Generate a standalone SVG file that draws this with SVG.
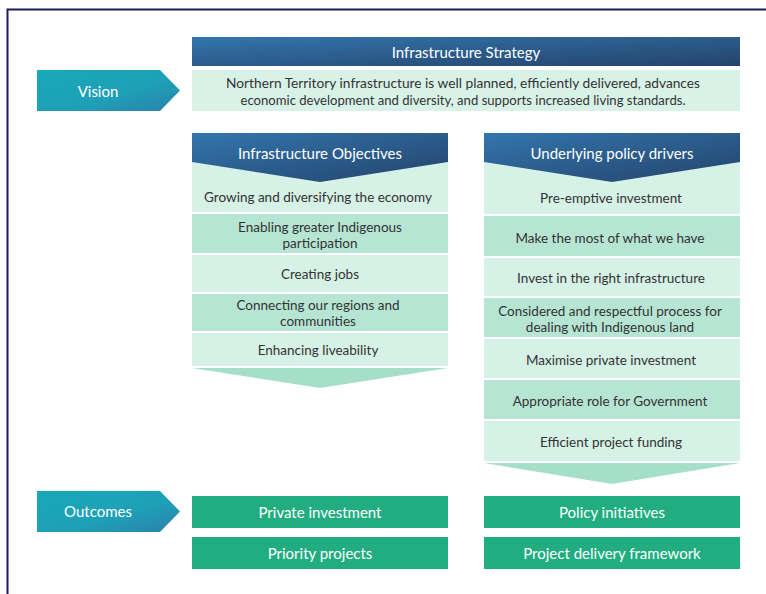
<svg xmlns="http://www.w3.org/2000/svg" width="766" height="594" viewBox="0 0 766 594">
<defs>
<linearGradient id="blue" x1="0" y1="0" x2="1" y2="1">
<stop offset="0" stop-color="#3376ad"/>
<stop offset="1" stop-color="#24436b"/>
</linearGradient>
<linearGradient id="teal" x1="0" y1="0" x2="1" y2="1">
<stop offset="0" stop-color="#17aab9"/>
<stop offset="0.6" stop-color="#1f9fb6"/>
<stop offset="1" stop-color="#2c7fac"/>
</linearGradient>
<style>
.t{font-family:Lato,"Open Sans","Liberation Sans",sans-serif;font-size:13.5px;fill:#333;text-anchor:middle;dominant-baseline:central}
.w{font-family:Lato,"Open Sans","Liberation Sans",sans-serif;font-size:15px;fill:#fff;text-anchor:middle;dominant-baseline:central}
.lt{fill:#d6f1e6}
.dk{fill:#b6e5d3}
.cv{fill:#a6dfc9}
.og{fill:#21ad7f}
</style>
</defs>
<rect width="766" height="594" fill="#fff"/>
<path d="M7.5 594V9.5H766" fill="none" stroke="#1d1b5e" stroke-width="2"/>

<g id="vision-label">
<polygon points="37,70 160,70 180,90.5 160,111 37,111" fill="url(#teal)"/>
<text class="w" x="98" y="91">Vision</text>
</g>
<g id="strategy-header">
<rect x="192" y="37" width="548" height="29" fill="url(#blue)"/>
<text class="w" x="466" y="52">Infrastructure Strategy</text>
</g>
<g id="vision-text">
<rect x="192" y="70" width="548" height="41" fill="#d8f2e8"/>
<text class="t" x="463" y="83" textLength="474" lengthAdjust="spacingAndGlyphs">Northern Territory infrastructure is well planned, efficiently delivered, advances</text>
<text class="t" x="463" y="100" textLength="445" lengthAdjust="spacingAndGlyphs">economic development and diversity, and supports increased living standards.</text>
</g>

<g id="objectives">
<rect class="lt" x="192" y="160" width="256" height="52"/>
<rect class="dk" x="192" y="214" width="256" height="39"/>
<rect class="lt" x="192" y="255" width="256" height="37"/>
<rect class="dk" x="192" y="294" width="256" height="37"/>
<rect class="lt" x="192" y="333" width="256" height="33"/>
<polygon class="cv" points="192,368 448,368 320,388"/>
<polygon points="192,133 448,133 448,162 320,182 192,162" fill="url(#blue)"/>
<text class="w" x="320" y="153">Infrastructure Objectives</text>
<text class="t" x="318" y="197">Growing and diversifying the economy</text>
<text class="t" x="320" y="227">Enabling greater Indigenous</text>
<text class="t" x="320" y="243">participation</text>
<text class="t" x="320" y="274">Creating jobs</text>
<text class="t" x="318" y="305">Connecting our regions and</text>
<text class="t" x="318" y="321">communities</text>
<text class="t" x="318" y="350">Enhancing liveability</text>
</g>

<g id="policy-drivers">
<rect class="lt" x="484" y="160" width="256" height="54"/>
<rect class="dk" x="484" y="216" width="256" height="40"/>
<rect class="lt" x="484" y="258" width="256" height="38"/>
<rect class="dk" x="484" y="298" width="256" height="39"/>
<rect class="lt" x="484" y="339" width="256" height="39"/>
<rect class="dk" x="484" y="380" width="256" height="39"/>
<rect class="lt" x="484" y="421" width="256" height="40"/>
<polygon class="cv" points="484,463 740,463 612,484"/>
<polygon points="484,133 740,133 740,162 612,182 484,162" fill="url(#blue)"/>
<text class="w" x="612" y="153">Underlying policy drivers</text>
<text class="t" x="611" y="198">Pre-emptive investment</text>
<text class="t" x="610" y="238">Make the most of what we have</text>
<text class="t" x="611" y="278">Invest in the right infrastructure</text>
<text class="t" x="610" y="311">Considered and respectful process for</text>
<text class="t" x="610" y="327">dealing with Indigenous land</text>
<text class="t" x="611" y="360">Maximise private investment</text>
<text class="t" x="610" y="401">Appropriate role for Government</text>
<text class="t" x="611" y="442">Efficient project funding</text>
</g>

<g id="outcomes-label">
<polygon points="37,491 160,491 180,511.5 160,532 37,532" fill="url(#teal)"/>
<text class="w" x="98" y="511">Outcomes</text>
</g>
<g id="private-investment">
<rect class="og" x="192" y="496" width="256" height="32"/>
<text class="w" x="320" y="512">Private investment</text>
</g>
<g id="priority-projects">
<rect class="og" x="192" y="537" width="256" height="32"/>
<text class="w" x="320" y="553">Priority projects</text>
</g>
<g id="policy-initiatives">
<rect class="og" x="484" y="496" width="256" height="32"/>
<text class="w" x="612" y="512">Policy initiatives</text>
</g>
<g id="project-delivery">
<rect class="og" x="484" y="537" width="256" height="32"/>
<text class="w" x="612" y="553">Project delivery framework</text>
</g>
<g id="connectors"/>
</svg>
